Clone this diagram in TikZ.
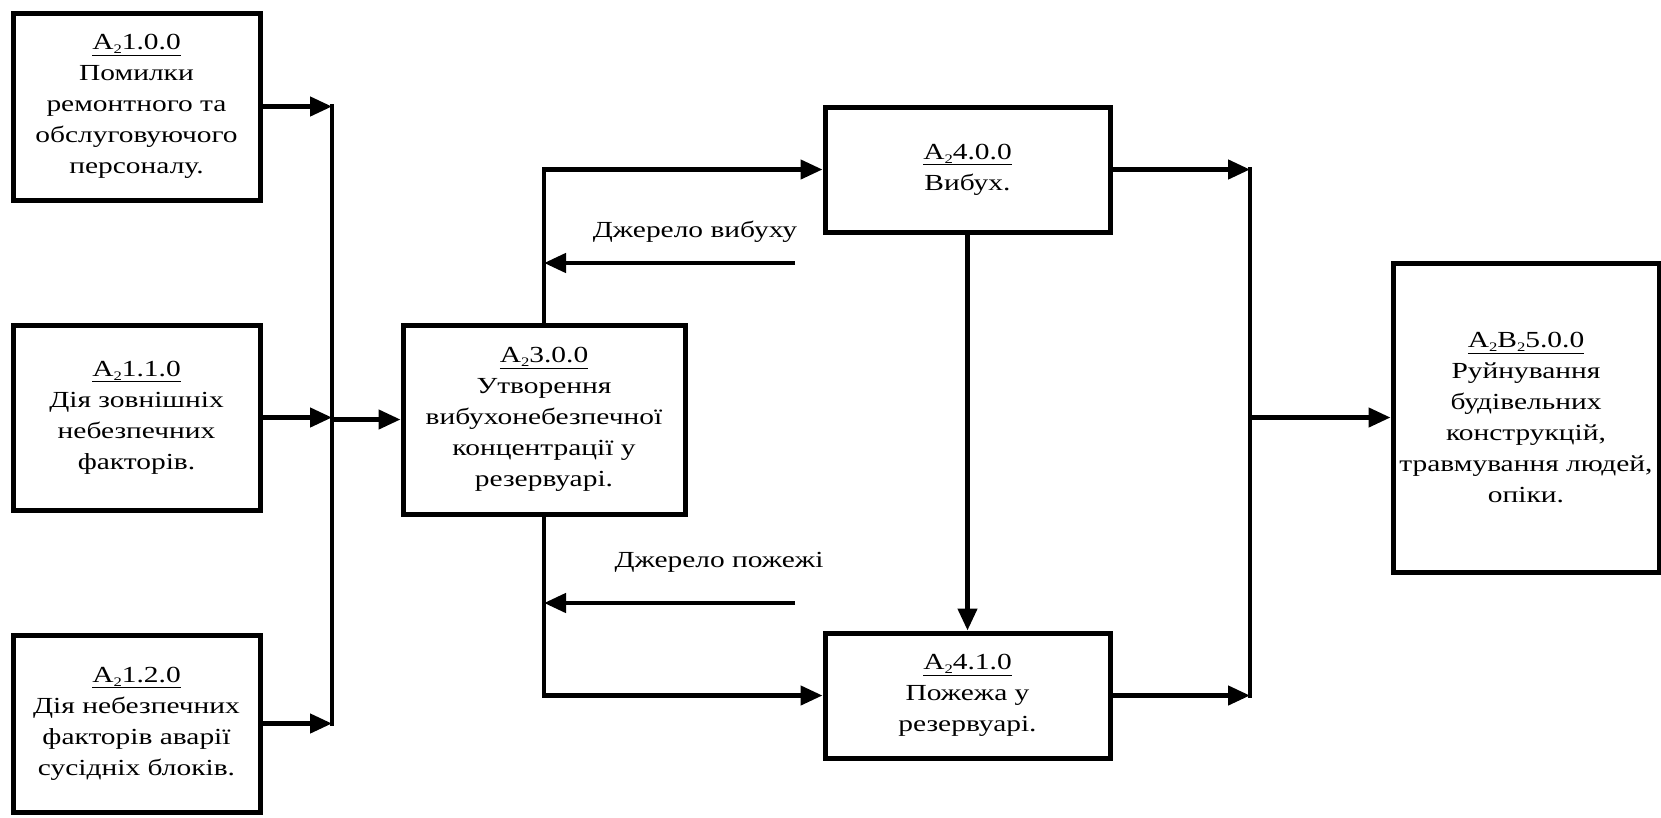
\documentclass[tikz,border=0pt]{standalone}
\usepackage{fontspec}
\setmainfont{Liberation Serif}[FakeStretch=1.28]
\usetikzlibrary{arrows.meta}
\tikzset{
  box/.style={draw, line width=5pt, align=center, inner sep=0pt,
    font=\fontsize{23}{31}\selectfont},
  ln/.style={line width=4.5pt},
  arr/.style={line width=4.5pt, -{Triangle[length=22pt,width=19pt]}},
  lbl/.style={font=\fontsize{23}{31}\selectfont, inner sep=0pt},
}
\newcommand{\subtwo}{\raisebox{-4pt}{\fontsize{13}{13}\selectfont 2}}
\newcommand{\aid}[1]{\underline{A\subtwo#1}}
\begin{document}
\begin{tikzpicture}[x=1pt,y=-1pt]
\useasboundingbox (0,0) rectangle (1661,817);
\node[box, minimum width=247pt, minimum height=187pt] (b1) at (136.5,106.5)
  {\aid{1.0.0}\\Помилки\\ремонтного та\\обслуговуючого\\персоналу.};
\node[box, minimum width=247pt, minimum height=185pt] (b2) at (136.5,417.5)
  {\aid{1.1.0}\\Дія зовнішніх\\небезпечних\\факторів.};
\node[box, minimum width=247pt, minimum height=177pt] (b3) at (136.5,723.5)
  {\aid{1.2.0}\\Дія небезпечних\\факторів аварії\\сусідніх блоків.};
\node[box, minimum width=282pt, minimum height=189pt] (a3) at (544,419.5)
  {\aid{3.0.0}\\Утворення\\вибухонебезпечної\\концентрації у\\резервуарі.};
\node[box, minimum width=285pt, minimum height=125pt] (a40) at (967.5,169.5)
  {\aid{4.0.0}\\Вибух.};
\node[box, minimum width=285pt, minimum height=125pt] (a41) at (967.5,695.5)
  {\aid{4.1.0}\\Пожежа у\\резервуарі.};
\node[box, minimum width=266pt, minimum height=309pt] (a5) at (1526,417.5)
  {\underline{A\subtwo B\subtwo 5.0.0}\\Руйнування\\будівельних\\конструкцій,\\травмування людей,\\опіки.};
\node[lbl] (t1) at (695,232) {Джерело вибуху};
\node[lbl] (t2) at (719,562) {Джерело пожежі};
\coordinate (busL) at (332,420);
\coordinate (busR) at (1250,418);
\coordinate (s1) at (795,263);
\coordinate (s2) at (795,603);
% left bus
\draw[ln, line cap=rect] (b1.east -| busL) -- (b3.east -| busL);
\draw[arr] (b1.east) -- (b1.east -| busL);
\draw[arr] (b2.east) -- (b2.east -| busL);
\draw[arr] (b3.east) -- (b3.east -| busL);
\draw[arr] (busL |- a3.west) -- (a3.west);
% branches from A3
\draw[arr] (a3.north) |- (a40.west);
\draw[arr] (a3.south) |- (a41.west);
\draw[arr] (s1) -- (s1 -| a3.north);
\draw[arr] (s2) -- (s2 -| a3.south);
\draw[arr] (a40.south) -- (a41.north);
% right bus
\draw[ln, line cap=rect] (a40.east -| busR) -- (a41.east -| busR);
\draw[arr] (a40.east) -- (a40.east -| busR);
\draw[arr] (a41.east) -- (a41.east -| busR);
\draw[arr] (busR |- a5.west) -- (a5.west);
\end{tikzpicture}
\end{document}
